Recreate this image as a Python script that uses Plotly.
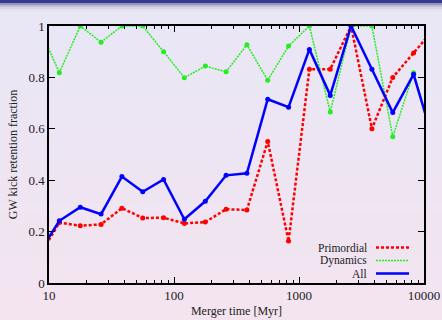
import numpy as np
import plotly.graph_objects as go

# Bin centres (Myr)
merger_time = [8.25, 12.1, 17.8, 26.1, 38.3, 56.2, 82.5, 121, 178, 261,
               383, 562, 825, 1211, 1778, 2610, 3831, 5623, 8254, 12115]
primordial = [0.10, 0.235, 0.223, 0.228, 0.291, 0.253, 0.254, 0.232, 0.237, 0.287,
              0.284, 0.551, 0.163, 0.832, 0.832, 1.0, 0.60, 0.80, 0.895, 0.99]
dynamics = [1.0, 0.818, 1.0, 0.937, 1.0, 1.0, 0.90, 0.799, 0.844, 0.822,
            0.927, 0.789, 0.922, 1.0, 0.665, 1.0, 1.0, 0.569, 0.818, 0.54]
all_ = [0.114, 0.242, 0.295, 0.268, 0.414, 0.355, 0.403, 0.248, 0.318, 0.419,
        0.427, 0.715, 0.684, 0.909, 0.730, 1.0, 0.832, 0.663, 0.812, 0.54]

x_tickvals = [10, 100, 1000, 10000]
x_ticktext = ["10", "100", "1000", "10000"]
y_tickvals = [0, 0.2, 0.4, 0.6, 0.8, 1.0]
y_ticktext = ["0", "0.2", "0.4", "0.6", "0.8", "1"]

series = [
    ("Primordial", primordial, "#ff0000", 2.5, "3px,2px"),
    ("Dynamics", dynamics, "#22ee22", 1.5, "2px,1px"),
    ("All", all_, "#0000ff", 2.5, "solid"),
]

W, H = 442, 320
L, R, T, B = 49, 18, 26, 37
pw, ph = W - L - R, H - T - B

fig = go.Figure()
for name, vals, col, w, dash in series:
    fig.add_trace(go.Scatter(
        x=merger_time, y=vals, mode="lines+markers", name=name,
        line=dict(color=col, width=w, dash=dash),
        marker=dict(color=col, size=5),
        showlegend=False,
    ))

def py2paper(py):
    return (H - B - py) / ph
def px2paper(px):
    return (px - L) / pw

shapes = []
top_c = np.array([233, 231, 246])
bot_c = np.array([244, 228, 240])
n = 32
for i in range(n):
    y0 = 10 + (H - 10) * i / n
    y1 = 10 + (H - 10) * (i + 1) / n + 1
    c = top_c + (bot_c - top_c) * (i + 0.5) / n
    shapes.append(dict(type="rect", xref="paper", yref="paper", layer="below",
                       x0=px2paper(-2), x1=px2paper(W + 2), y0=py2paper(y1), y1=py2paper(y0),
                       line=dict(width=0), fillcolor="rgb(%d,%d,%d)" % tuple(c)))
hdr = [(0, 3, "rgb(55,55,150)"), (3, 5, "rgb(150,150,175)"), (5, 7, "rgb(190,188,210)"),
       (7, 9, "rgb(215,213,232)"), (9, 11, "rgb(228,226,242)")]
for y0, y1, c in hdr:
    shapes.append(dict(type="rect", xref="paper", yref="paper", layer="below",
                       x0=px2paper(-2), x1=px2paper(W + 2), y0=py2paper(y1), y1=py2paper(y0),
                       line=dict(width=0), fillcolor=c))

annotations = []
leg_rows = [247.5, 260.5, 273.5]
for (name, vals, col, w, dash), py in zip(series, leg_rows):
    annotations.append(dict(xref="paper", yref="paper", x=px2paper(368), y=py2paper(py),
                            xanchor="right", yanchor="middle", showarrow=False, text=name,
                            borderpad=0,
                            font=dict(family="Liberation Serif", size=11.5, color="#222")))
    shapes.append(dict(type="line", xref="paper", yref="paper",
                       x0=px2paper(376), x1=px2paper(409), y0=py2paper(py), y1=py2paper(py),
                       line=dict(color=col, width=w, dash=dash)))

minor_vals = [m * 10 ** d for d in range(1, 4) for m in range(2, 10)]

fig.update_layout(
    width=W, height=H, margin=dict(l=L, r=R, t=T, b=B, autoexpand=False),
    paper_bgcolor="rgb(238,230,243)", plot_bgcolor="rgba(0,0,0,0)",
    shapes=shapes, annotations=annotations,
    font=dict(family="Liberation Serif", color="#222"),
    xaxis=dict(type="log", range=[1, 4], tickmode="array", tickvals=x_tickvals, ticktext=x_ticktext,
               ticks="inside", ticklen=6, tickcolor="black", showline=True, linecolor="black",
               linewidth=1.5, mirror="allticks", showgrid=False, zeroline=False, automargin=False,
               tickfont=dict(size=13, family="Liberation Serif", color="#222"),
               minor=dict(ticks="inside", ticklen=3, tickvals=minor_vals, tickcolor="black", showgrid=False),
               title=dict(text="Merger time [Myr]", font=dict(size=12, family="Liberation Serif", color="#222"),
                          standoff=4)),
    yaxis=dict(range=[0, 1], tickmode="array", tickvals=y_tickvals, ticktext=y_ticktext,
               ticks="inside", ticklen=6, tickcolor="black", showline=True, linecolor="black",
               linewidth=1.5, mirror="allticks", showgrid=False, zeroline=False, automargin=False,
               tickfont=dict(size=13, family="Liberation Serif", color="#222"),
               title=dict(text="GW kick retention fraction",
                          font=dict(size=12, family="Liberation Serif", color="#222"), standoff=8)),
)

fig.write_html("out.html")
